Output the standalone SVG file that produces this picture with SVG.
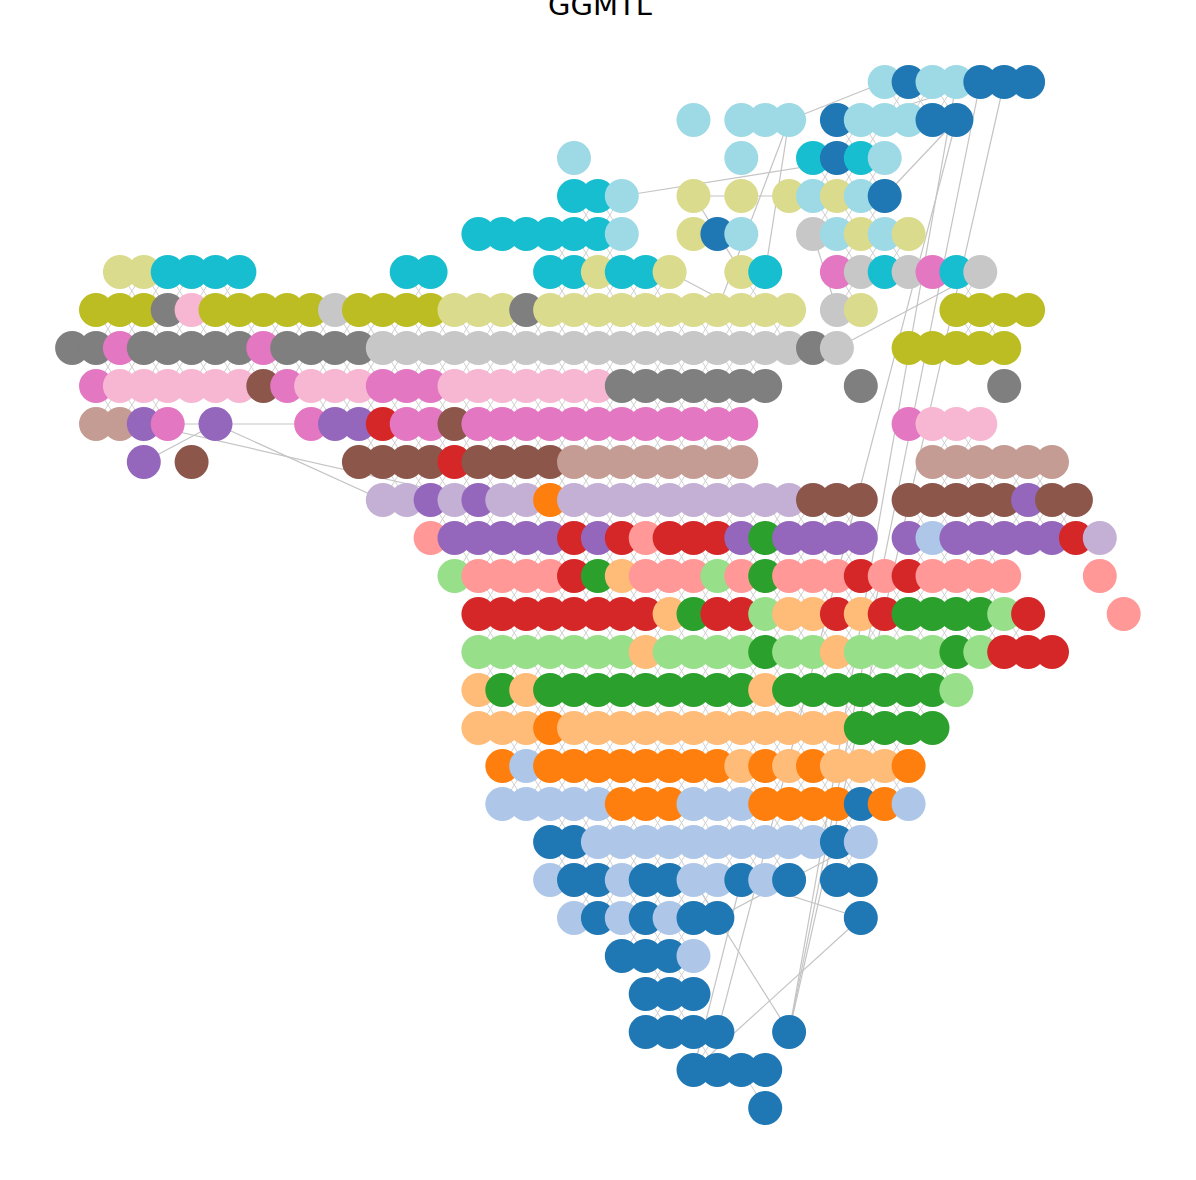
<svg xmlns="http://www.w3.org/2000/svg" width="1196" height="1180" viewBox="0 0 1196 1180">
<style>
.a{fill:#1f77b4}.b{fill:#aec7e8}.c{fill:#ff7f0e}.d{fill:#ffbb78}.e{fill:#2ca02c}.f{fill:#98df8a}.g{fill:#d62728}.h{fill:#ff9896}.i{fill:#9467bd}.j{fill:#c5b0d5}.k{fill:#8c564b}.l{fill:#c49c94}.m{fill:#e377c2}.n{fill:#f7b6d2}.o{fill:#7f7f7f}.p{fill:#c7c7c7}.q{fill:#bcbd22}.s{fill:#dbdb8d}.t{fill:#17becf}.u{fill:#9edae5}
.ed polyline{fill:none;stroke:#c4c4c4;stroke-width:1.2;vector-effect:non-scaling-stroke}
.ed .z{stroke:#d0d0d0;stroke-width:1}
.title{font-family:"DejaVu Sans",sans-serif;font-size:29px;fill:#000}
</style>
<rect width="1196" height="1180" fill="#fff"/>
<text class="title" x="600" y="15" text-anchor="middle">GGMTL</text>
<g id="edges" class="ed" transform="matrix(23.9 0 0 38 72.1 82)">
<g id="grid-edges">
<polyline class="z" points="34,0 35,1 36,0 37,1"/><polyline class="z" points="34,1 35,0 36,1 37,0"/>
<polyline class="z" points="32,1 33,2 34,1"/><polyline class="z" points="32,2 33,1 34,2"/>
<polyline class="z" points="31,2 32,3 33,2 34,3"/><polyline class="z" points="31,3 32,2 33,3 34,2"/>
<polyline class="z" points="21,3 22,4 23,3"/><polyline class="z" points="21,4 22,3 23,4"/>
<polyline class="z" points="31,3 32,4 33,3 34,4"/><polyline class="z" points="31,4 32,3 33,4 34,3"/>
<polyline class="z" points="20,4 21,5 22,4 23,5"/><polyline class="z" points="20,5 21,4 22,5 23,4"/>
<polyline class="z" points="32,4 33,5 34,4 35,5"/><polyline class="z" points="32,5 33,4 34,5 35,4"/>
<polyline class="z" points="2,5 3,6 4,5 5,6 6,5 7,6"/><polyline class="z" points="2,6 3,5 4,6 5,5 6,6 7,5"/>
<polyline class="z" points="14,5 15,6"/><polyline class="z" points="14,6 15,5"/>
<polyline class="z" points="20,5 21,6 22,5 23,6 24,5 25,6"/><polyline class="z" points="20,6 21,5 22,6 23,5 24,6 25,5"/>
<polyline class="z" points="28,5 29,6"/><polyline class="z" points="28,6 29,5"/>
<polyline class="z" points="32,5 33,6"/><polyline class="z" points="32,6 33,5"/>
<polyline class="z" points="37,5 38,6"/><polyline class="z" points="37,6 38,5"/>
<polyline class="z" points="1,6 2,7 3,6 4,7 5,6 6,7 7,6 8,7 9,6 10,7 11,6 12,7 13,6 14,7 15,6 16,7 17,6 18,7 19,6 20,7 21,6 22,7 23,6 24,7 25,6 26,7 27,6 28,7 29,6 30,7"/>
<polyline class="z" points="1,7 2,6 3,7 4,6 5,7 6,6 7,7 8,6 9,7 10,6 11,7 12,6 13,7 14,6 15,7 16,6 17,7 18,6 19,7 20,6 21,7 22,6 23,7 24,6 25,7 26,6 27,7 28,6 29,7 30,6"/>
<polyline class="z" points="37,6 38,7 39,6"/><polyline class="z" points="37,7 38,6 39,7"/>
<polyline class="z" points="1,7 2,8 3,7 4,8 5,7 6,8 7,7 8,8 9,7 10,8 11,7 12,8 13,7 14,8 15,7 16,8 17,7 18,8 19,7 20,8 21,7 22,8 23,7 24,8 25,7 26,8 27,7 28,8 29,7"/>
<polyline class="z" points="1,8 2,7 3,8 4,7 5,8 6,7 7,8 8,7 9,8 10,7 11,8 12,7 13,8 14,7 15,8 16,7 17,8 18,7 19,8 20,7 21,8 22,7 23,8 24,7 25,8 26,7 27,8 28,7 29,8"/>
<polyline class="z" points="1,8 2,9 3,8 4,9"/><polyline class="z" points="1,9 2,8 3,9 4,8"/>
<polyline class="z" points="10,8 11,9 12,8 13,9 14,8 15,9 16,8 17,9 18,8 19,9 20,8 21,9 22,8 23,9 24,8 25,9 26,8 27,9 28,8"/>
<polyline class="z" points="10,9 11,8 12,9 13,8 14,9 15,8 16,9 17,8 18,9 19,8 20,9 21,8 22,9 23,8 24,9 25,8 26,9 27,8 28,9"/>
<polyline class="z" points="12,9 13,10 14,9 15,10 16,9 17,10 18,9 19,10 20,9 21,10 22,9 23,10 24,9 25,10 26,9 27,10 28,9"/>
<polyline class="z" points="12,10 13,9 14,10 15,9 16,10 17,9 18,10 19,9 20,10 21,9 22,10 23,9 24,10 25,9 26,10 27,9 28,10"/>
<polyline class="z" points="36,9 37,10 38,9"/><polyline class="z" points="36,10 37,9 38,10"/>
<polyline class="z" points="13,10 14,11 15,10 16,11 17,10 18,11 19,10 20,11 21,10 22,11 23,10 24,11 25,10 26,11 27,10 28,11"/>
<polyline class="z" points="13,11 14,10 15,11 16,10 17,11 18,10 19,11 20,10 21,11 22,10 23,11 24,10 25,11 26,10 27,11 28,10"/>
<polyline class="z" points="36,10 37,11 38,10 39,11 40,10 41,11"/><polyline class="z" points="36,11 37,10 38,11 39,10 40,11 41,10"/>
<polyline class="z" points="15,11 16,12 17,11 18,12 19,11 20,12 21,11 22,12 23,11 24,12 25,11 26,12 27,11 28,12 29,11 30,12 31,11 32,12 33,11"/>
<polyline class="z" points="15,12 16,11 17,12 18,11 19,12 20,11 21,12 22,11 23,12 24,11 25,12 26,11 27,12 28,11 29,12 30,11 31,12 32,11 33,12"/>
<polyline class="z" points="35,11 36,12 37,11 38,12 39,11 40,12 41,11 42,12"/><polyline class="z" points="35,12 36,11 37,12 38,11 39,12 40,11 41,12 42,11"/>
<polyline class="z" points="16,12 17,13 18,12 19,13 20,12 21,13 22,12 23,13 24,12 25,13 26,12 27,13 28,12 29,13 30,12 31,13 32,12 33,13"/>
<polyline class="z" points="16,13 17,12 18,13 19,12 20,13 21,12 22,13 23,12 24,13 25,12 26,13 27,12 28,13 29,12 30,13 31,12 32,13 33,12"/>
<polyline class="z" points="35,12 36,13 37,12 38,13 39,12"/><polyline class="z" points="35,13 36,12 37,13 38,12 39,13"/>
<polyline class="z" points="17,13 18,14 19,13 20,14 21,13 22,14 23,13 24,14 25,13 26,14 27,13 28,14 29,13 30,14 31,13 32,14 33,13 34,14 35,13 36,14 37,13 38,14 39,13"/>
<polyline class="z" points="17,14 18,13 19,14 20,13 21,14 22,13 23,14 24,13 25,14 26,13 27,14 28,13 29,14 30,13 31,14 32,13 33,14 34,13 35,14 36,13 37,14 38,13 39,14"/>
<polyline class="z" points="17,14 18,15 19,14 20,15 21,14 22,15 23,14 24,15 25,14 26,15 27,14 28,15 29,14 30,15 31,14 32,15 33,14 34,15 35,14 36,15 37,14 38,15 39,14 40,15"/>
<polyline class="z" points="17,15 18,14 19,15 20,14 21,15 22,14 23,15 24,14 25,15 26,14 27,15 28,14 29,15 30,14 31,15 32,14 33,15 34,14 35,15 36,14 37,15 38,14 39,15 40,14"/>
<polyline class="z" points="17,15 18,16 19,15 20,16 21,15 22,16 23,15 24,16 25,15 26,16 27,15 28,16 29,15 30,16 31,15 32,16 33,15 34,16 35,15 36,16 37,15"/>
<polyline class="z" points="17,16 18,15 19,16 20,15 21,16 22,15 23,16 24,15 25,16 26,15 27,16 28,15 29,16 30,15 31,16 32,15 33,16 34,15 35,16 36,15 37,16"/>
<polyline class="z" points="17,16 18,17 19,16 20,17 21,16 22,17 23,16 24,17 25,16 26,17 27,16 28,17 29,16 30,17 31,16 32,17 33,16 34,17 35,16 36,17"/>
<polyline class="z" points="17,17 18,16 19,17 20,16 21,17 22,16 23,17 24,16 25,17 26,16 27,17 28,16 29,17 30,16 31,17 32,16 33,17 34,16 35,17 36,16"/>
<polyline class="z" points="18,17 19,18 20,17 21,18 22,17 23,18 24,17 25,18 26,17 27,18 28,17 29,18 30,17 31,18 32,17 33,18 34,17 35,18"/>
<polyline class="z" points="18,18 19,17 20,18 21,17 22,18 23,17 24,18 25,17 26,18 27,17 28,18 29,17 30,18 31,17 32,18 33,17 34,18 35,17"/>
<polyline class="z" points="18,18 19,19 20,18 21,19 22,18 23,19 24,18 25,19 26,18 27,19 28,18 29,19 30,18 31,19 32,18 33,19 34,18 35,19"/>
<polyline class="z" points="18,19 19,18 20,19 21,18 22,19 23,18 24,19 25,18 26,19 27,18 28,19 29,18 30,19 31,18 32,19 33,18 34,19 35,18"/>
<polyline class="z" points="20,19 21,20 22,19 23,20 24,19 25,20 26,19 27,20 28,19 29,20 30,19 31,20 32,19 33,20"/>
<polyline class="z" points="20,20 21,19 22,20 23,19 24,20 25,19 26,20 27,19 28,20 29,19 30,20 31,19 32,20 33,19"/>
<polyline class="z" points="20,20 21,21 22,20 23,21 24,20 25,21 26,20 27,21 28,20 29,21 30,20"/>
<polyline class="z" points="20,21 21,20 22,21 23,20 24,21 25,20 26,21 27,20 28,21 29,20 30,21"/>
<polyline class="z" points="32,20 33,21"/><polyline class="z" points="32,21 33,20"/>
<polyline class="z" points="21,21 22,22 23,21 24,22 25,21 26,22 27,21"/><polyline class="z" points="21,22 22,21 23,22 24,21 25,22 26,21 27,22"/>
<polyline class="z" points="23,22 24,23 25,22 26,23"/><polyline class="z" points="23,23 24,22 25,23 26,22"/>
<polyline class="z" points="24,23 25,24 26,23"/><polyline class="z" points="24,24 25,23 26,24"/>
<polyline class="z" points="24,24 25,25 26,24"/><polyline class="z" points="24,25 25,24 26,25"/>
<polyline class="z" points="26,25 27,26"/><polyline class="z" points="26,26 27,25"/>
<polyline class="z" points="28,26 29,27"/>
</g>
<g id="long-edges">
<polyline points="30,1 34,0"/>
<polyline points="33,1 38,0"/>
<polyline points="23,3 33,2"/>
<polyline points="34,3 37,1"/>
<polyline points="26,3 28,3 30,3"/>
<polyline points="26,3 28,5"/>
<polyline points="30,1 27,6"/>
<polyline points="30,1 29,5"/>
<polyline points="31,4 32,6"/>
<polyline points="25,5 28,6"/>
<polyline points="32,7 38,5"/>
<polyline points="4,9 10,9"/>
<polyline points="3,10 6,9"/>
<polyline points="6,9 13,11"/>
<polyline points="3,9 17,11"/>
<polyline points="37,1 27,25"/>
<polyline points="37,0 30,25"/>
<polyline points="38,0 30,25"/>
<polyline points="39,0 30,25"/>
<polyline points="28,21 26,26"/>
<polyline points="26,21 30,25"/>
<polyline points="33,22 26,26"/>
<polyline points="27,22 33,20"/>
<polyline points="28,21 33,22"/>
</g>
</g>
<g id="nodes">
<g id="row0" transform="translate(0,82)">
<g id="n0_34"><circle class="u" cx="884.7" r="17"/></g><g id="n0_35"><circle class="a" cx="908.6" r="17"/></g><g id="n0_36"><circle class="u" cx="932.5" r="17"/></g><g id="n0_37"><circle class="u" cx="956.4" r="17"/></g><g id="n0_38"><circle class="a" cx="980.3" r="17"/></g><g id="n0_39"><circle class="a" cx="1004.2" r="17"/></g><g id="n0_40"><circle class="a" cx="1028.1" r="17"/></g>
</g>
<g id="row1" transform="translate(0,120)">
<g id="n1_26"><circle class="u" cx="693.5" r="17"/></g><g id="n1_28"><circle class="u" cx="741.3" r="17"/></g><g id="n1_29"><circle class="u" cx="765.2" r="17"/></g><g id="n1_30"><circle class="u" cx="789.1" r="17"/></g><g id="n1_32"><circle class="a" cx="836.9" r="17"/></g><g id="n1_33"><circle class="u" cx="860.8" r="17"/></g><g id="n1_34"><circle class="u" cx="884.7" r="17"/></g><g id="n1_35"><circle class="u" cx="908.6" r="17"/></g><g id="n1_36"><circle class="a" cx="932.5" r="17"/></g><g id="n1_37"><circle class="a" cx="956.4" r="17"/></g>
</g>
<g id="row2" transform="translate(0,158)">
<g id="n2_21"><circle class="u" cx="574" r="17"/></g><g id="n2_28"><circle class="u" cx="741.3" r="17"/></g><g id="n2_31"><circle class="t" cx="813" r="17"/></g><g id="n2_32"><circle class="a" cx="836.9" r="17"/></g><g id="n2_33"><circle class="t" cx="860.8" r="17"/></g><g id="n2_34"><circle class="u" cx="884.7" r="17"/></g>
</g>
<g id="row3" transform="translate(0,196)">
<g id="n3_21"><circle class="t" cx="574" r="17"/></g><g id="n3_22"><circle class="t" cx="597.9" r="17"/></g><g id="n3_23"><circle class="u" cx="621.8" r="17"/></g><g id="n3_26"><circle class="s" cx="693.5" r="17"/></g><g id="n3_28"><circle class="s" cx="741.3" r="17"/></g><g id="n3_30"><circle class="s" cx="789.1" r="17"/></g><g id="n3_31"><circle class="u" cx="813" r="17"/></g><g id="n3_32"><circle class="s" cx="836.9" r="17"/></g><g id="n3_33"><circle class="u" cx="860.8" r="17"/></g><g id="n3_34"><circle class="a" cx="884.7" r="17"/></g>
</g>
<g id="row4" transform="translate(0,234)">
<g id="n4_17"><circle class="t" cx="478.4" r="17"/></g><g id="n4_18"><circle class="t" cx="502.3" r="17"/></g><g id="n4_19"><circle class="t" cx="526.2" r="17"/></g><g id="n4_20"><circle class="t" cx="550.1" r="17"/></g><g id="n4_21"><circle class="t" cx="574" r="17"/></g><g id="n4_22"><circle class="t" cx="597.9" r="17"/></g><g id="n4_23"><circle class="u" cx="621.8" r="17"/></g><g id="n4_26"><circle class="s" cx="693.5" r="17"/></g><g id="n4_27"><circle class="a" cx="717.4" r="17"/></g><g id="n4_28"><circle class="u" cx="741.3" r="17"/></g><g id="n4_31"><circle class="p" cx="813" r="17"/></g><g id="n4_32"><circle class="u" cx="836.9" r="17"/></g><g id="n4_33"><circle class="s" cx="860.8" r="17"/></g><g id="n4_34"><circle class="u" cx="884.7" r="17"/></g><g id="n4_35"><circle class="s" cx="908.6" r="17"/></g>
</g>
<g id="row5" transform="translate(0,272)">
<g id="n5_2"><circle class="s" cx="119.9" r="17"/></g><g id="n5_3"><circle class="s" cx="143.8" r="17"/></g><g id="n5_4"><circle class="t" cx="167.7" r="17"/></g><g id="n5_5"><circle class="t" cx="191.6" r="17"/></g><g id="n5_6"><circle class="t" cx="215.5" r="17"/></g><g id="n5_7"><circle class="t" cx="239.4" r="17"/></g><g id="n5_14"><circle class="t" cx="406.7" r="17"/></g><g id="n5_15"><circle class="t" cx="430.6" r="17"/></g><g id="n5_20"><circle class="t" cx="550.1" r="17"/></g><g id="n5_21"><circle class="t" cx="574" r="17"/></g><g id="n5_22"><circle class="s" cx="597.9" r="17"/></g><g id="n5_23"><circle class="t" cx="621.8" r="17"/></g><g id="n5_24"><circle class="t" cx="645.7" r="17"/></g><g id="n5_25"><circle class="s" cx="669.6" r="17"/></g><g id="n5_28"><circle class="s" cx="741.3" r="17"/></g><g id="n5_29"><circle class="t" cx="765.2" r="17"/></g><g id="n5_32"><circle class="m" cx="836.9" r="17"/></g><g id="n5_33"><circle class="p" cx="860.8" r="17"/></g><g id="n5_34"><circle class="t" cx="884.7" r="17"/></g><g id="n5_35"><circle class="p" cx="908.6" r="17"/></g><g id="n5_36"><circle class="m" cx="932.5" r="17"/></g><g id="n5_37"><circle class="t" cx="956.4" r="17"/></g><g id="n5_38"><circle class="p" cx="980.3" r="17"/></g>
</g>
<g id="row6" transform="translate(0,310)">
<g id="n6_1"><circle class="q" cx="96" r="17"/></g><g id="n6_2"><circle class="q" cx="119.9" r="17"/></g><g id="n6_3"><circle class="q" cx="143.8" r="17"/></g><g id="n6_4"><circle class="o" cx="167.7" r="17"/></g><g id="n6_5"><circle class="n" cx="191.6" r="17"/></g><g id="n6_6"><circle class="q" cx="215.5" r="17"/></g><g id="n6_7"><circle class="q" cx="239.4" r="17"/></g><g id="n6_8"><circle class="q" cx="263.3" r="17"/></g><g id="n6_9"><circle class="q" cx="287.2" r="17"/></g><g id="n6_10"><circle class="q" cx="311.1" r="17"/></g><g id="n6_11"><circle class="p" cx="335" r="17"/></g><g id="n6_12"><circle class="q" cx="358.9" r="17"/></g><g id="n6_13"><circle class="q" cx="382.8" r="17"/></g><g id="n6_14"><circle class="q" cx="406.7" r="17"/></g><g id="n6_15"><circle class="q" cx="430.6" r="17"/></g><g id="n6_16"><circle class="s" cx="454.5" r="17"/></g><g id="n6_17"><circle class="s" cx="478.4" r="17"/></g><g id="n6_18"><circle class="s" cx="502.3" r="17"/></g><g id="n6_19"><circle class="o" cx="526.2" r="17"/></g><g id="n6_20"><circle class="s" cx="550.1" r="17"/></g><g id="n6_21"><circle class="s" cx="574" r="17"/></g><g id="n6_22"><circle class="s" cx="597.9" r="17"/></g><g id="n6_23"><circle class="s" cx="621.8" r="17"/></g><g id="n6_24"><circle class="s" cx="645.7" r="17"/></g><g id="n6_25"><circle class="s" cx="669.6" r="17"/></g><g id="n6_26"><circle class="s" cx="693.5" r="17"/></g><g id="n6_27"><circle class="s" cx="717.4" r="17"/></g><g id="n6_28"><circle class="s" cx="741.3" r="17"/></g><g id="n6_29"><circle class="s" cx="765.2" r="17"/></g><g id="n6_30"><circle class="s" cx="789.1" r="17"/></g><g id="n6_32"><circle class="p" cx="836.9" r="17"/></g><g id="n6_33"><circle class="s" cx="860.8" r="17"/></g><g id="n6_37"><circle class="q" cx="956.4" r="17"/></g><g id="n6_38"><circle class="q" cx="980.3" r="17"/></g><g id="n6_39"><circle class="q" cx="1004.2" r="17"/></g><g id="n6_40"><circle class="q" cx="1028.1" r="17"/></g>
</g>
<g id="row7" transform="translate(0,348)">
<g id="n7_0"><circle class="o" cx="72.1" r="17"/></g><g id="n7_1"><circle class="o" cx="96" r="17"/></g><g id="n7_2"><circle class="m" cx="119.9" r="17"/></g><g id="n7_3"><circle class="o" cx="143.8" r="17"/></g><g id="n7_4"><circle class="o" cx="167.7" r="17"/></g><g id="n7_5"><circle class="o" cx="191.6" r="17"/></g><g id="n7_6"><circle class="o" cx="215.5" r="17"/></g><g id="n7_7"><circle class="o" cx="239.4" r="17"/></g><g id="n7_8"><circle class="m" cx="263.3" r="17"/></g><g id="n7_9"><circle class="o" cx="287.2" r="17"/></g><g id="n7_10"><circle class="o" cx="311.1" r="17"/></g><g id="n7_11"><circle class="o" cx="335" r="17"/></g><g id="n7_12"><circle class="o" cx="358.9" r="17"/></g><g id="n7_13"><circle class="p" cx="382.8" r="17"/></g><g id="n7_14"><circle class="p" cx="406.7" r="17"/></g><g id="n7_15"><circle class="p" cx="430.6" r="17"/></g><g id="n7_16"><circle class="p" cx="454.5" r="17"/></g><g id="n7_17"><circle class="p" cx="478.4" r="17"/></g><g id="n7_18"><circle class="p" cx="502.3" r="17"/></g><g id="n7_19"><circle class="p" cx="526.2" r="17"/></g><g id="n7_20"><circle class="p" cx="550.1" r="17"/></g><g id="n7_21"><circle class="p" cx="574" r="17"/></g><g id="n7_22"><circle class="p" cx="597.9" r="17"/></g><g id="n7_23"><circle class="p" cx="621.8" r="17"/></g><g id="n7_24"><circle class="p" cx="645.7" r="17"/></g><g id="n7_25"><circle class="p" cx="669.6" r="17"/></g><g id="n7_26"><circle class="p" cx="693.5" r="17"/></g><g id="n7_27"><circle class="p" cx="717.4" r="17"/></g><g id="n7_28"><circle class="p" cx="741.3" r="17"/></g><g id="n7_29"><circle class="p" cx="765.2" r="17"/></g><g id="n7_30"><circle class="p" cx="789.1" r="17"/></g><g id="n7_31"><circle class="o" cx="813" r="17"/></g><g id="n7_32"><circle class="p" cx="836.9" r="17"/></g><g id="n7_35"><circle class="q" cx="908.6" r="17"/></g><g id="n7_36"><circle class="q" cx="932.5" r="17"/></g><g id="n7_37"><circle class="q" cx="956.4" r="17"/></g><g id="n7_38"><circle class="q" cx="980.3" r="17"/></g><g id="n7_39"><circle class="q" cx="1004.2" r="17"/></g>
</g>
<g id="row8" transform="translate(0,386)">
<g id="n8_1"><circle class="m" cx="96" r="17"/></g><g id="n8_2"><circle class="n" cx="119.9" r="17"/></g><g id="n8_3"><circle class="n" cx="143.8" r="17"/></g><g id="n8_4"><circle class="n" cx="167.7" r="17"/></g><g id="n8_5"><circle class="n" cx="191.6" r="17"/></g><g id="n8_6"><circle class="n" cx="215.5" r="17"/></g><g id="n8_7"><circle class="n" cx="239.4" r="17"/></g><g id="n8_8"><circle class="k" cx="263.3" r="17"/></g><g id="n8_9"><circle class="m" cx="287.2" r="17"/></g><g id="n8_10"><circle class="n" cx="311.1" r="17"/></g><g id="n8_11"><circle class="n" cx="335" r="17"/></g><g id="n8_12"><circle class="n" cx="358.9" r="17"/></g><g id="n8_13"><circle class="m" cx="382.8" r="17"/></g><g id="n8_14"><circle class="m" cx="406.7" r="17"/></g><g id="n8_15"><circle class="m" cx="430.6" r="17"/></g><g id="n8_16"><circle class="n" cx="454.5" r="17"/></g><g id="n8_17"><circle class="n" cx="478.4" r="17"/></g><g id="n8_18"><circle class="n" cx="502.3" r="17"/></g><g id="n8_19"><circle class="n" cx="526.2" r="17"/></g><g id="n8_20"><circle class="n" cx="550.1" r="17"/></g><g id="n8_21"><circle class="n" cx="574" r="17"/></g><g id="n8_22"><circle class="n" cx="597.9" r="17"/></g><g id="n8_23"><circle class="o" cx="621.8" r="17"/></g><g id="n8_24"><circle class="o" cx="645.7" r="17"/></g><g id="n8_25"><circle class="o" cx="669.6" r="17"/></g><g id="n8_26"><circle class="o" cx="693.5" r="17"/></g><g id="n8_27"><circle class="o" cx="717.4" r="17"/></g><g id="n8_28"><circle class="o" cx="741.3" r="17"/></g><g id="n8_29"><circle class="o" cx="765.2" r="17"/></g><g id="n8_33"><circle class="o" cx="860.8" r="17"/></g><g id="n8_39"><circle class="o" cx="1004.2" r="17"/></g>
</g>
<g id="row9" transform="translate(0,424)">
<g id="n9_1"><circle class="l" cx="96" r="17"/></g><g id="n9_2"><circle class="l" cx="119.9" r="17"/></g><g id="n9_3"><circle class="i" cx="143.8" r="17"/></g><g id="n9_4"><circle class="m" cx="167.7" r="17"/></g><g id="n9_6"><circle class="i" cx="215.5" r="17"/></g><g id="n9_10"><circle class="m" cx="311.1" r="17"/></g><g id="n9_11"><circle class="i" cx="335" r="17"/></g><g id="n9_12"><circle class="i" cx="358.9" r="17"/></g><g id="n9_13"><circle class="g" cx="382.8" r="17"/></g><g id="n9_14"><circle class="m" cx="406.7" r="17"/></g><g id="n9_15"><circle class="m" cx="430.6" r="17"/></g><g id="n9_16"><circle class="k" cx="454.5" r="17"/></g><g id="n9_17"><circle class="m" cx="478.4" r="17"/></g><g id="n9_18"><circle class="m" cx="502.3" r="17"/></g><g id="n9_19"><circle class="m" cx="526.2" r="17"/></g><g id="n9_20"><circle class="m" cx="550.1" r="17"/></g><g id="n9_21"><circle class="m" cx="574" r="17"/></g><g id="n9_22"><circle class="m" cx="597.9" r="17"/></g><g id="n9_23"><circle class="m" cx="621.8" r="17"/></g><g id="n9_24"><circle class="m" cx="645.7" r="17"/></g><g id="n9_25"><circle class="m" cx="669.6" r="17"/></g><g id="n9_26"><circle class="m" cx="693.5" r="17"/></g><g id="n9_27"><circle class="m" cx="717.4" r="17"/></g><g id="n9_28"><circle class="m" cx="741.3" r="17"/></g><g id="n9_35"><circle class="m" cx="908.6" r="17"/></g><g id="n9_36"><circle class="n" cx="932.5" r="17"/></g><g id="n9_37"><circle class="n" cx="956.4" r="17"/></g><g id="n9_38"><circle class="n" cx="980.3" r="17"/></g>
</g>
<g id="row10" transform="translate(0,462)">
<g id="n10_3"><circle class="i" cx="143.8" r="17"/></g><g id="n10_5"><circle class="k" cx="191.6" r="17"/></g><g id="n10_12"><circle class="k" cx="358.9" r="17"/></g><g id="n10_13"><circle class="k" cx="382.8" r="17"/></g><g id="n10_14"><circle class="k" cx="406.7" r="17"/></g><g id="n10_15"><circle class="k" cx="430.6" r="17"/></g><g id="n10_16"><circle class="g" cx="454.5" r="17"/></g><g id="n10_17"><circle class="k" cx="478.4" r="17"/></g><g id="n10_18"><circle class="k" cx="502.3" r="17"/></g><g id="n10_19"><circle class="k" cx="526.2" r="17"/></g><g id="n10_20"><circle class="k" cx="550.1" r="17"/></g><g id="n10_21"><circle class="l" cx="574" r="17"/></g><g id="n10_22"><circle class="l" cx="597.9" r="17"/></g><g id="n10_23"><circle class="l" cx="621.8" r="17"/></g><g id="n10_24"><circle class="l" cx="645.7" r="17"/></g><g id="n10_25"><circle class="l" cx="669.6" r="17"/></g><g id="n10_26"><circle class="l" cx="693.5" r="17"/></g><g id="n10_27"><circle class="l" cx="717.4" r="17"/></g><g id="n10_28"><circle class="l" cx="741.3" r="17"/></g><g id="n10_36"><circle class="l" cx="932.5" r="17"/></g><g id="n10_37"><circle class="l" cx="956.4" r="17"/></g><g id="n10_38"><circle class="l" cx="980.3" r="17"/></g><g id="n10_39"><circle class="l" cx="1004.2" r="17"/></g><g id="n10_40"><circle class="l" cx="1028.1" r="17"/></g><g id="n10_41"><circle class="l" cx="1052" r="17"/></g>
</g>
<g id="row11" transform="translate(0,500)">
<g id="n11_13"><circle class="j" cx="382.8" r="17"/></g><g id="n11_14"><circle class="j" cx="406.7" r="17"/></g><g id="n11_15"><circle class="i" cx="430.6" r="17"/></g><g id="n11_16"><circle class="j" cx="454.5" r="17"/></g><g id="n11_17"><circle class="i" cx="478.4" r="17"/></g><g id="n11_18"><circle class="j" cx="502.3" r="17"/></g><g id="n11_19"><circle class="j" cx="526.2" r="17"/></g><g id="n11_20"><circle class="c" cx="550.1" r="17"/></g><g id="n11_21"><circle class="j" cx="574" r="17"/></g><g id="n11_22"><circle class="j" cx="597.9" r="17"/></g><g id="n11_23"><circle class="j" cx="621.8" r="17"/></g><g id="n11_24"><circle class="j" cx="645.7" r="17"/></g><g id="n11_25"><circle class="j" cx="669.6" r="17"/></g><g id="n11_26"><circle class="j" cx="693.5" r="17"/></g><g id="n11_27"><circle class="j" cx="717.4" r="17"/></g><g id="n11_28"><circle class="j" cx="741.3" r="17"/></g><g id="n11_29"><circle class="j" cx="765.2" r="17"/></g><g id="n11_30"><circle class="j" cx="789.1" r="17"/></g><g id="n11_31"><circle class="k" cx="813" r="17"/></g><g id="n11_32"><circle class="k" cx="836.9" r="17"/></g><g id="n11_33"><circle class="k" cx="860.8" r="17"/></g><g id="n11_35"><circle class="k" cx="908.6" r="17"/></g><g id="n11_36"><circle class="k" cx="932.5" r="17"/></g><g id="n11_37"><circle class="k" cx="956.4" r="17"/></g><g id="n11_38"><circle class="k" cx="980.3" r="17"/></g><g id="n11_39"><circle class="k" cx="1004.2" r="17"/></g><g id="n11_40"><circle class="i" cx="1028.1" r="17"/></g><g id="n11_41"><circle class="k" cx="1052" r="17"/></g><g id="n11_42"><circle class="k" cx="1075.9" r="17"/></g>
</g>
<g id="row12" transform="translate(0,538)">
<g id="n12_15"><circle class="h" cx="430.6" r="17"/></g><g id="n12_16"><circle class="i" cx="454.5" r="17"/></g><g id="n12_17"><circle class="i" cx="478.4" r="17"/></g><g id="n12_18"><circle class="i" cx="502.3" r="17"/></g><g id="n12_19"><circle class="i" cx="526.2" r="17"/></g><g id="n12_20"><circle class="i" cx="550.1" r="17"/></g><g id="n12_21"><circle class="g" cx="574" r="17"/></g><g id="n12_22"><circle class="i" cx="597.9" r="17"/></g><g id="n12_23"><circle class="g" cx="621.8" r="17"/></g><g id="n12_24"><circle class="h" cx="645.7" r="17"/></g><g id="n12_25"><circle class="g" cx="669.6" r="17"/></g><g id="n12_26"><circle class="g" cx="693.5" r="17"/></g><g id="n12_27"><circle class="g" cx="717.4" r="17"/></g><g id="n12_28"><circle class="i" cx="741.3" r="17"/></g><g id="n12_29"><circle class="e" cx="765.2" r="17"/></g><g id="n12_30"><circle class="i" cx="789.1" r="17"/></g><g id="n12_31"><circle class="i" cx="813" r="17"/></g><g id="n12_32"><circle class="i" cx="836.9" r="17"/></g><g id="n12_33"><circle class="i" cx="860.8" r="17"/></g><g id="n12_35"><circle class="i" cx="908.6" r="17"/></g><g id="n12_36"><circle class="b" cx="932.5" r="17"/></g><g id="n12_37"><circle class="i" cx="956.4" r="17"/></g><g id="n12_38"><circle class="i" cx="980.3" r="17"/></g><g id="n12_39"><circle class="i" cx="1004.2" r="17"/></g><g id="n12_40"><circle class="i" cx="1028.1" r="17"/></g><g id="n12_41"><circle class="i" cx="1052" r="17"/></g><g id="n12_42"><circle class="g" cx="1075.9" r="17"/></g><g id="n12_43"><circle class="j" cx="1099.8" r="17"/></g>
</g>
<g id="row13" transform="translate(0,576)">
<g id="n13_16"><circle class="f" cx="454.5" r="17"/></g><g id="n13_17"><circle class="h" cx="478.4" r="17"/></g><g id="n13_18"><circle class="h" cx="502.3" r="17"/></g><g id="n13_19"><circle class="h" cx="526.2" r="17"/></g><g id="n13_20"><circle class="h" cx="550.1" r="17"/></g><g id="n13_21"><circle class="g" cx="574" r="17"/></g><g id="n13_22"><circle class="e" cx="597.9" r="17"/></g><g id="n13_23"><circle class="d" cx="621.8" r="17"/></g><g id="n13_24"><circle class="h" cx="645.7" r="17"/></g><g id="n13_25"><circle class="h" cx="669.6" r="17"/></g><g id="n13_26"><circle class="h" cx="693.5" r="17"/></g><g id="n13_27"><circle class="f" cx="717.4" r="17"/></g><g id="n13_28"><circle class="h" cx="741.3" r="17"/></g><g id="n13_29"><circle class="e" cx="765.2" r="17"/></g><g id="n13_30"><circle class="h" cx="789.1" r="17"/></g><g id="n13_31"><circle class="h" cx="813" r="17"/></g><g id="n13_32"><circle class="h" cx="836.9" r="17"/></g><g id="n13_33"><circle class="g" cx="860.8" r="17"/></g><g id="n13_34"><circle class="h" cx="884.7" r="17"/></g><g id="n13_35"><circle class="g" cx="908.6" r="17"/></g><g id="n13_36"><circle class="h" cx="932.5" r="17"/></g><g id="n13_37"><circle class="h" cx="956.4" r="17"/></g><g id="n13_38"><circle class="h" cx="980.3" r="17"/></g><g id="n13_39"><circle class="h" cx="1004.2" r="17"/></g><g id="n13_43"><circle class="h" cx="1099.8" r="17"/></g>
</g>
<g id="row14" transform="translate(0,614)">
<g id="n14_17"><circle class="g" cx="478.4" r="17"/></g><g id="n14_18"><circle class="g" cx="502.3" r="17"/></g><g id="n14_19"><circle class="g" cx="526.2" r="17"/></g><g id="n14_20"><circle class="g" cx="550.1" r="17"/></g><g id="n14_21"><circle class="g" cx="574" r="17"/></g><g id="n14_22"><circle class="g" cx="597.9" r="17"/></g><g id="n14_23"><circle class="g" cx="621.8" r="17"/></g><g id="n14_24"><circle class="g" cx="645.7" r="17"/></g><g id="n14_25"><circle class="d" cx="669.6" r="17"/></g><g id="n14_26"><circle class="e" cx="693.5" r="17"/></g><g id="n14_27"><circle class="g" cx="717.4" r="17"/></g><g id="n14_28"><circle class="g" cx="741.3" r="17"/></g><g id="n14_29"><circle class="f" cx="765.2" r="17"/></g><g id="n14_30"><circle class="d" cx="789.1" r="17"/></g><g id="n14_31"><circle class="d" cx="813" r="17"/></g><g id="n14_32"><circle class="g" cx="836.9" r="17"/></g><g id="n14_33"><circle class="d" cx="860.8" r="17"/></g><g id="n14_34"><circle class="g" cx="884.7" r="17"/></g><g id="n14_35"><circle class="e" cx="908.6" r="17"/></g><g id="n14_36"><circle class="e" cx="932.5" r="17"/></g><g id="n14_37"><circle class="e" cx="956.4" r="17"/></g><g id="n14_38"><circle class="e" cx="980.3" r="17"/></g><g id="n14_39"><circle class="f" cx="1004.2" r="17"/></g><g id="n14_40"><circle class="g" cx="1028.1" r="17"/></g><g id="n14_44"><circle class="h" cx="1123.7" r="17"/></g>
</g>
<g id="row15" transform="translate(0,652)">
<g id="n15_17"><circle class="f" cx="478.4" r="17"/></g><g id="n15_18"><circle class="f" cx="502.3" r="17"/></g><g id="n15_19"><circle class="f" cx="526.2" r="17"/></g><g id="n15_20"><circle class="f" cx="550.1" r="17"/></g><g id="n15_21"><circle class="f" cx="574" r="17"/></g><g id="n15_22"><circle class="f" cx="597.9" r="17"/></g><g id="n15_23"><circle class="f" cx="621.8" r="17"/></g><g id="n15_24"><circle class="d" cx="645.7" r="17"/></g><g id="n15_25"><circle class="f" cx="669.6" r="17"/></g><g id="n15_26"><circle class="f" cx="693.5" r="17"/></g><g id="n15_27"><circle class="f" cx="717.4" r="17"/></g><g id="n15_28"><circle class="f" cx="741.3" r="17"/></g><g id="n15_29"><circle class="e" cx="765.2" r="17"/></g><g id="n15_30"><circle class="f" cx="789.1" r="17"/></g><g id="n15_31"><circle class="f" cx="813" r="17"/></g><g id="n15_32"><circle class="d" cx="836.9" r="17"/></g><g id="n15_33"><circle class="f" cx="860.8" r="17"/></g><g id="n15_34"><circle class="f" cx="884.7" r="17"/></g><g id="n15_35"><circle class="f" cx="908.6" r="17"/></g><g id="n15_36"><circle class="f" cx="932.5" r="17"/></g><g id="n15_37"><circle class="e" cx="956.4" r="17"/></g><g id="n15_38"><circle class="f" cx="980.3" r="17"/></g><g id="n15_39"><circle class="g" cx="1004.2" r="17"/></g><g id="n15_40"><circle class="g" cx="1028.1" r="17"/></g><g id="n15_41"><circle class="g" cx="1052" r="17"/></g>
</g>
<g id="row16" transform="translate(0,690)">
<g id="n16_17"><circle class="d" cx="478.4" r="17"/></g><g id="n16_18"><circle class="e" cx="502.3" r="17"/></g><g id="n16_19"><circle class="d" cx="526.2" r="17"/></g><g id="n16_20"><circle class="e" cx="550.1" r="17"/></g><g id="n16_21"><circle class="e" cx="574" r="17"/></g><g id="n16_22"><circle class="e" cx="597.9" r="17"/></g><g id="n16_23"><circle class="e" cx="621.8" r="17"/></g><g id="n16_24"><circle class="e" cx="645.7" r="17"/></g><g id="n16_25"><circle class="e" cx="669.6" r="17"/></g><g id="n16_26"><circle class="e" cx="693.5" r="17"/></g><g id="n16_27"><circle class="e" cx="717.4" r="17"/></g><g id="n16_28"><circle class="e" cx="741.3" r="17"/></g><g id="n16_29"><circle class="d" cx="765.2" r="17"/></g><g id="n16_30"><circle class="e" cx="789.1" r="17"/></g><g id="n16_31"><circle class="e" cx="813" r="17"/></g><g id="n16_32"><circle class="e" cx="836.9" r="17"/></g><g id="n16_33"><circle class="e" cx="860.8" r="17"/></g><g id="n16_34"><circle class="e" cx="884.7" r="17"/></g><g id="n16_35"><circle class="e" cx="908.6" r="17"/></g><g id="n16_36"><circle class="e" cx="932.5" r="17"/></g><g id="n16_37"><circle class="f" cx="956.4" r="17"/></g>
</g>
<g id="row17" transform="translate(0,728)">
<g id="n17_17"><circle class="d" cx="478.4" r="17"/></g><g id="n17_18"><circle class="d" cx="502.3" r="17"/></g><g id="n17_19"><circle class="d" cx="526.2" r="17"/></g><g id="n17_20"><circle class="c" cx="550.1" r="17"/></g><g id="n17_21"><circle class="d" cx="574" r="17"/></g><g id="n17_22"><circle class="d" cx="597.9" r="17"/></g><g id="n17_23"><circle class="d" cx="621.8" r="17"/></g><g id="n17_24"><circle class="d" cx="645.7" r="17"/></g><g id="n17_25"><circle class="d" cx="669.6" r="17"/></g><g id="n17_26"><circle class="d" cx="693.5" r="17"/></g><g id="n17_27"><circle class="d" cx="717.4" r="17"/></g><g id="n17_28"><circle class="d" cx="741.3" r="17"/></g><g id="n17_29"><circle class="d" cx="765.2" r="17"/></g><g id="n17_30"><circle class="d" cx="789.1" r="17"/></g><g id="n17_31"><circle class="d" cx="813" r="17"/></g><g id="n17_32"><circle class="d" cx="836.9" r="17"/></g><g id="n17_33"><circle class="e" cx="860.8" r="17"/></g><g id="n17_34"><circle class="e" cx="884.7" r="17"/></g><g id="n17_35"><circle class="e" cx="908.6" r="17"/></g><g id="n17_36"><circle class="e" cx="932.5" r="17"/></g>
</g>
<g id="row18" transform="translate(0,766)">
<g id="n18_18"><circle class="c" cx="502.3" r="17"/></g><g id="n18_19"><circle class="b" cx="526.2" r="17"/></g><g id="n18_20"><circle class="c" cx="550.1" r="17"/></g><g id="n18_21"><circle class="c" cx="574" r="17"/></g><g id="n18_22"><circle class="c" cx="597.9" r="17"/></g><g id="n18_23"><circle class="c" cx="621.8" r="17"/></g><g id="n18_24"><circle class="c" cx="645.7" r="17"/></g><g id="n18_25"><circle class="c" cx="669.6" r="17"/></g><g id="n18_26"><circle class="c" cx="693.5" r="17"/></g><g id="n18_27"><circle class="c" cx="717.4" r="17"/></g><g id="n18_28"><circle class="d" cx="741.3" r="17"/></g><g id="n18_29"><circle class="c" cx="765.2" r="17"/></g><g id="n18_30"><circle class="d" cx="789.1" r="17"/></g><g id="n18_31"><circle class="c" cx="813" r="17"/></g><g id="n18_32"><circle class="d" cx="836.9" r="17"/></g><g id="n18_33"><circle class="d" cx="860.8" r="17"/></g><g id="n18_34"><circle class="d" cx="884.7" r="17"/></g><g id="n18_35"><circle class="c" cx="908.6" r="17"/></g>
</g>
<g id="row19" transform="translate(0,804)">
<g id="n19_18"><circle class="b" cx="502.3" r="17"/></g><g id="n19_19"><circle class="b" cx="526.2" r="17"/></g><g id="n19_20"><circle class="b" cx="550.1" r="17"/></g><g id="n19_21"><circle class="b" cx="574" r="17"/></g><g id="n19_22"><circle class="b" cx="597.9" r="17"/></g><g id="n19_23"><circle class="c" cx="621.8" r="17"/></g><g id="n19_24"><circle class="c" cx="645.7" r="17"/></g><g id="n19_25"><circle class="c" cx="669.6" r="17"/></g><g id="n19_26"><circle class="b" cx="693.5" r="17"/></g><g id="n19_27"><circle class="b" cx="717.4" r="17"/></g><g id="n19_28"><circle class="b" cx="741.3" r="17"/></g><g id="n19_29"><circle class="c" cx="765.2" r="17"/></g><g id="n19_30"><circle class="c" cx="789.1" r="17"/></g><g id="n19_31"><circle class="c" cx="813" r="17"/></g><g id="n19_32"><circle class="c" cx="836.9" r="17"/></g><g id="n19_33"><circle class="a" cx="860.8" r="17"/></g><g id="n19_34"><circle class="c" cx="884.7" r="17"/></g><g id="n19_35"><circle class="b" cx="908.6" r="17"/></g>
</g>
<g id="row20" transform="translate(0,842)">
<g id="n20_20"><circle class="a" cx="550.1" r="17"/></g><g id="n20_21"><circle class="a" cx="574" r="17"/></g><g id="n20_22"><circle class="b" cx="597.9" r="17"/></g><g id="n20_23"><circle class="b" cx="621.8" r="17"/></g><g id="n20_24"><circle class="b" cx="645.7" r="17"/></g><g id="n20_25"><circle class="b" cx="669.6" r="17"/></g><g id="n20_26"><circle class="b" cx="693.5" r="17"/></g><g id="n20_27"><circle class="b" cx="717.4" r="17"/></g><g id="n20_28"><circle class="b" cx="741.3" r="17"/></g><g id="n20_29"><circle class="b" cx="765.2" r="17"/></g><g id="n20_30"><circle class="b" cx="789.1" r="17"/></g><g id="n20_31"><circle class="b" cx="813" r="17"/></g><g id="n20_32"><circle class="a" cx="836.9" r="17"/></g><g id="n20_33"><circle class="b" cx="860.8" r="17"/></g>
</g>
<g id="row21" transform="translate(0,880)">
<g id="n21_20"><circle class="b" cx="550.1" r="17"/></g><g id="n21_21"><circle class="a" cx="574" r="17"/></g><g id="n21_22"><circle class="a" cx="597.9" r="17"/></g><g id="n21_23"><circle class="b" cx="621.8" r="17"/></g><g id="n21_24"><circle class="a" cx="645.7" r="17"/></g><g id="n21_25"><circle class="a" cx="669.6" r="17"/></g><g id="n21_26"><circle class="b" cx="693.5" r="17"/></g><g id="n21_27"><circle class="b" cx="717.4" r="17"/></g><g id="n21_28"><circle class="a" cx="741.3" r="17"/></g><g id="n21_29"><circle class="b" cx="765.2" r="17"/></g><g id="n21_30"><circle class="a" cx="789.1" r="17"/></g><g id="n21_32"><circle class="a" cx="836.9" r="17"/></g><g id="n21_33"><circle class="a" cx="860.8" r="17"/></g>
</g>
<g id="row22" transform="translate(0,918)">
<g id="n22_21"><circle class="b" cx="574" r="17"/></g><g id="n22_22"><circle class="a" cx="597.9" r="17"/></g><g id="n22_23"><circle class="b" cx="621.8" r="17"/></g><g id="n22_24"><circle class="a" cx="645.7" r="17"/></g><g id="n22_25"><circle class="b" cx="669.6" r="17"/></g><g id="n22_26"><circle class="a" cx="693.5" r="17"/></g><g id="n22_27"><circle class="a" cx="717.4" r="17"/></g><g id="n22_33"><circle class="a" cx="860.8" r="17"/></g>
</g>
<g id="row23" transform="translate(0,956)">
<g id="n23_23"><circle class="a" cx="621.8" r="17"/></g><g id="n23_24"><circle class="a" cx="645.7" r="17"/></g><g id="n23_25"><circle class="a" cx="669.6" r="17"/></g><g id="n23_26"><circle class="b" cx="693.5" r="17"/></g>
</g>
<g id="row24" transform="translate(0,994)">
<g id="n24_24"><circle class="a" cx="645.7" r="17"/></g><g id="n24_25"><circle class="a" cx="669.6" r="17"/></g><g id="n24_26"><circle class="a" cx="693.5" r="17"/></g>
</g>
<g id="row25" transform="translate(0,1032)">
<g id="n25_24"><circle class="a" cx="645.7" r="17"/></g><g id="n25_25"><circle class="a" cx="669.6" r="17"/></g><g id="n25_26"><circle class="a" cx="693.5" r="17"/></g><g id="n25_27"><circle class="a" cx="717.4" r="17"/></g><g id="n25_30"><circle class="a" cx="789.1" r="17"/></g>
</g>
<g id="row26" transform="translate(0,1070)">
<g id="n26_26"><circle class="a" cx="693.5" r="17"/></g><g id="n26_27"><circle class="a" cx="717.4" r="17"/></g><g id="n26_28"><circle class="a" cx="741.3" r="17"/></g><g id="n26_29"><circle class="a" cx="765.2" r="17"/></g>
</g>
<g id="row27" transform="translate(0,1108)">
<g id="n27_29"><circle class="a" cx="765.2" r="17"/></g>
</g>
</g>
</svg>
